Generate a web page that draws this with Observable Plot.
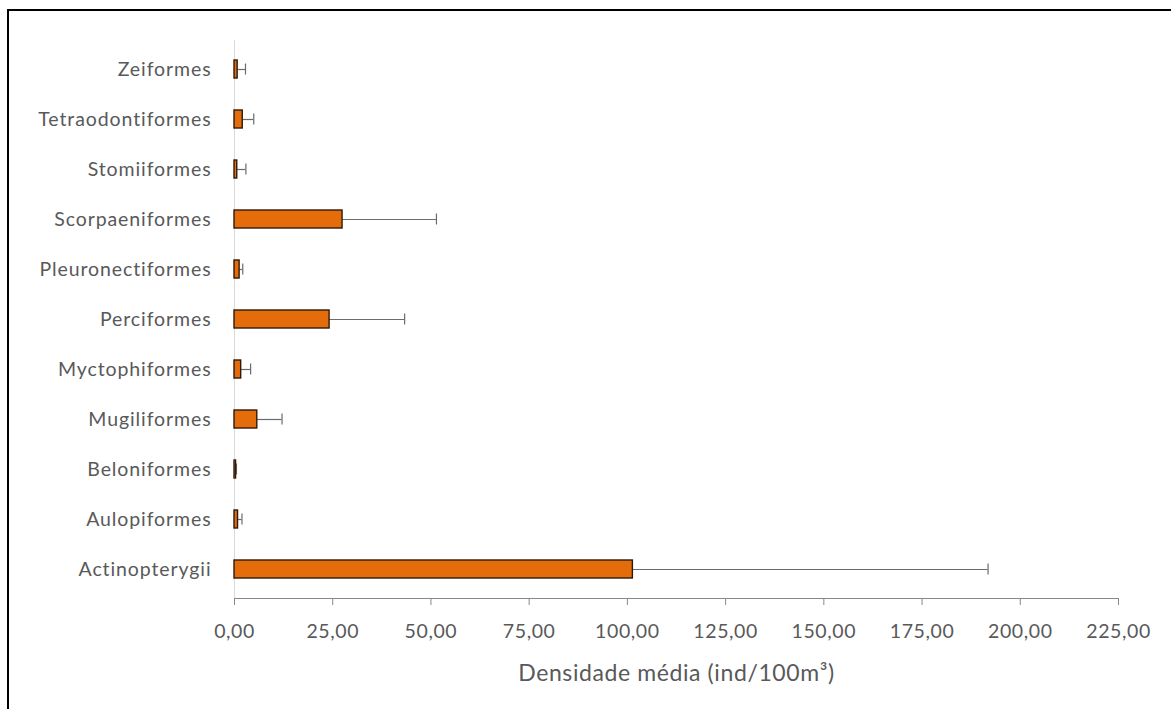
<!DOCTYPE html>
<html>
<head>
<meta charset="utf-8">
<script src="https://cdn.jsdelivr.net/npm/d3@7"></script>
<script src="https://cdn.jsdelivr.net/npm/@observablehq/plot@0.6"></script>
<style>
  html, body { margin: 0; padding: 0; background: #fff; overflow: hidden; }
  #frame {
    position: absolute; left: 7px; top: 9px;
    width: 1180px; height: 720px;
    border: 2.5px solid #000; box-sizing: border-box;
  }
  #chart { position: absolute; left: 0; top: 0; }
  #chart svg { font-family: Lato, "Open Sans", sans-serif; }
  #chart svg [aria-label="y-axis tick label"] text { letter-spacing: 0.9px; }
  #chart svg [aria-label="x-axis tick label"] text { letter-spacing: 0.6px; }
  #chart svg [aria-label="x-axis label"] text { letter-spacing: 0.6px; font-size: 23px; }
</style>
</head>
<body>
<div id="frame"></div>
<div id="chart"></div>
<script>
// Ordens de peixes (de cima para baixo)
const ordens = [
  "Zeiformes", "Tetraodontiformes", "Stomiiformes", "Scorpaeniformes",
  "Pleuronectiformes", "Perciformes", "Myctophiformes", "Mugiliformes",
  "Beloniformes", "Aulopiformes", "Actinopterygii"
];
// Densidade média (ind/100m³)
const medias = [0.8, 2.1, 0.7, 27.5, 1.3, 24.2, 1.7, 5.8, 0.4, 0.9, 101.4];
// Desvio padrão
const desvios = [2.0, 2.8, 2.2, 23.9, 0.8, 19.1, 2.4, 6.3, 0.1, 1.0, 90.4];
// Marcas do eixo x
const ticksX = [0, 25, 50, 75, 100, 125, 150, 175, 200, 225];

const dados = ordens.map((o, i) => ({ ordem: o, media: medias[i], desvio: desvios[i] }));
const fmt = d => d.toFixed(2).replace(".", ",");
const cinza = "#595959";

const chart = Plot.plot({
  width: 1171,
  height: 709,
  marginLeft: 234,
  marginRight: 53,
  marginTop: 40,
  marginBottom: 111,
  style: { fontSize: "20px", color: cinza, background: "transparent" },
  x: { domain: [0, 225] },
  y: { domain: ordens, padding: 0 },
  marks: [
    Plot.axisY({ tickSize: 0, tickPadding: 23, label: null, fontSize: 19.5, fill: cinza }),
    Plot.axisX({
      ticks: ticksX, tickFormat: fmt, tickSize: 7, tickPadding: 19, stroke: "#888",
      fill: cinza, fontSize: 19.5,
      label: "Densidade média (ind/100m³)", labelAnchor: "center", labelArrow: "none",
      labelOffset: 82
    }),
    Plot.ruleX([0], { stroke: "#d9d9d9", strokeWidth: 1 }),
    Plot.ruleY(dados, {
      y: "ordem", x1: "media", x2: d => d.media + d.desvio,
      stroke: "#6b6b6b", strokeWidth: 1.2
    }),
    Plot.tickX(dados, {
      y: "ordem", x: d => d.media + d.desvio,
      stroke: "#6b6b6b", strokeWidth: 1.2, insetTop: 19.5, insetBottom: 19.5
    }),
    Plot.barX(dados, {
      y: "ordem", x: "media",
      fill: "#E46C0A", stroke: "#2e1a0a", strokeWidth: 1.4,
      insetTop: 16, insetBottom: 16
    })
  ]
});

document.getElementById("chart").appendChild(chart);
// linha base do eixo x
d3.select(chart).append("line")
  .attr("x1", 234).attr("x2", 1118)
  .attr("y1", 598.5).attr("y2", 598.5)
  .attr("stroke", "#888").attr("stroke-width", 1);
</script>
</body>
</html>
